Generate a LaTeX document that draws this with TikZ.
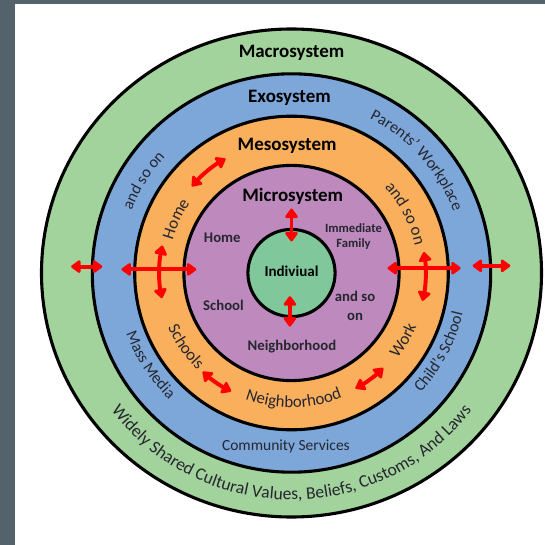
\documentclass[tikz,border=0pt]{standalone}
\usepackage{fontspec}
\setmainfont{Carlito}
\usetikzlibrary{arrows.meta,decorations.text}

\definecolor{macrogreen}{RGB}{163,211,156}
\definecolor{exoblue}{RGB}{125,167,216}
\definecolor{mesoorange}{RGB}{250,175,92}
\definecolor{microviolet}{RGB}{190,138,190}
\definecolor{selfgreen}{RGB}{128,200,155}
\definecolor{framegray}{RGB}{84,98,108}
\definecolor{labelgray}{RGB}{38,38,48}

\newcommand\headfont{\fontsize{13.5}{16}\selectfont\bfseries}
\newcommand\innerfont{\fontsize{10.5}{13.3}\selectfont\bfseries}
\newcommand\smallinner{\fontsize{9}{10.8}\selectfont\bfseries}
\newcommand\ringfont{\fontsize{12}{14}\selectfont}
\newcommand\exofont{\fontsize{11.5}{14}\selectfont}
\newcommand\macrofont{\fontsize{12.5}{15}\selectfont}

\begin{document}
\begin{tikzpicture}[ring/.style={draw=black,line width=2.2pt},
	head/.style={font=\headfont},
	inner label/.style={font=\innerfont,text=labelgray,align=center},
	link/.style={draw=red,line width=2.8pt,
		{Triangle[round,length=2.6mm,width=3.6mm]}-{Triangle[round,length=2.6mm,width=3.6mm]}},
	curved/.style={decorate,decoration={text along path,text align=center,
		text color=labelgray,text={#1}}}]
	
	\useasboundingbox (-7.2875,-6.8) rectangle (6.3375,6.825);
	\fill[white] (-7.2875,-6.8) rectangle (6.3375,6.825);
	\fill[framegray] (-7.2875,-6.8) rectangle (-6.9125,6.825);
	\fill[framegray] (-7.2875,6.725) rectangle (6.3375,6.825);
	
	% the nested systems
	\draw[ring,fill=macrogreen] (0,0) ellipse [x radius=6.25,y radius=6.1];
	\draw[ring,fill=exoblue] (0,0) circle (4.98);
	\draw[ring,fill=mesoorange] (0,0) circle (3.92);
	\draw[ring,fill=microviolet] (0,0) circle (2.69);
	\draw[ring,fill=selfgreen] (0,0) circle (1.09);
	
	\node[head] (macro) at (0,5.5) {Macrosystem};
	\node[head] (exo) at (-0.05,4.39) {Exosystem};
	\node[head] (meso) at (-0.11,3.18) {Mesosystem};
	\node[head] (micro) at (0.03,1.92) {Microsystem};
	\node[inner label,text=black,font=\fontsize{10.7}{12}\selectfont\bfseries] (self) at (0,0.05) {Indiviual};
	
	\node[inner label] (home) at (-1.73,0.875) {Home};
	\node[inner label,font=\smallinner] (family) at (1.55,0.91) {Immediate\\Family};
	\node[inner label] (school) at (-1.7,-0.8) {School};
	\node[inner label] (andso) at (1.59,-0.83) {and so\\on};
	\node[inner label] (hood) at (0.01,-1.84) {Neighborhood};
	
	% mesosystem labels
	\path[curved={|\ringfont|Home}] (195:3.08) arc[start angle=195,end angle=115,radius=3.08];
	\path[curved={|\ringfont|and so on}] (67:3.16) arc[start angle=67,end angle=-12,radius=3.16];
	\path[curved={|\ringfont|Schools}] (175:3.38) arc[start angle=175,end angle=255,radius=3.38];
	\path[curved={|\ringfont|Neighborhood}] (221:3.36) arc[start angle=221,end angle=321,radius=3.36];
	\path[curved={|\ringfont|Work}] (289:3.4) arc[start angle=289,end angle=369,radius=3.4];
	
	% exosystem labels
	\path[curved={|\exofont|and so on}] (188:4.29) arc[start angle=188,end angle=108,radius=4.29];
	\path[curved={|\exofont|Parents’ Workplace}] (82:4.33) arc[start angle=82,end angle=2,radius=4.33];
	\path[curved={|\exofont|Mass Media}] (173:4.4) arc[start angle=173,end angle=253,radius=4.4];
	\path[curved={|\exofont|Child’s School}] (292:4.4) arc[start angle=292,end angle=372,radius=4.4];
	\node[font=\fontsize{11}{13}\selectfont,text=labelgray] (services) at (-0.14,-4.34) {Community Services};
	
	% macrosystem label
	\path[curved={|\macrofont|Widely Shared Cultural Values, Beliefs, Customs, And Laws}]
		(195:5.67) arc[start angle=195,end angle=345,radius=5.67];
	
	% interactions
	\draw[link] (0,1.61) -- (0,0.79);
	\draw[link] (-0.04,-0.58) -- (-0.04,-1.34);
	\draw[link] (-4.25,0.09) -- (-2.38,0.09);
	\draw[link] (-5.51,0.16) -- (-4.73,0.16);
	\draw[link] (2.4,0.12) -- (4.23,0.12);
	\draw[link] (4.53,0.18) -- (5.47,0.18);
	\draw[link] (168:3.3) arc[start angle=168,end angle=191,radius=3.3];
	\draw[link] (9:3.35) arc[start angle=9,end angle=-12,radius=3.35];
	\draw[link] (139:3.3) arc[start angle=139,end angle=120,radius=3.3];
	\draw[link] (228:3.32) arc[start angle=228,end angle=243,radius=3.32];
	\draw[link] (299:3.3) arc[start angle=299,end angle=314,radius=3.3];
\end{tikzpicture}
\end{document}
